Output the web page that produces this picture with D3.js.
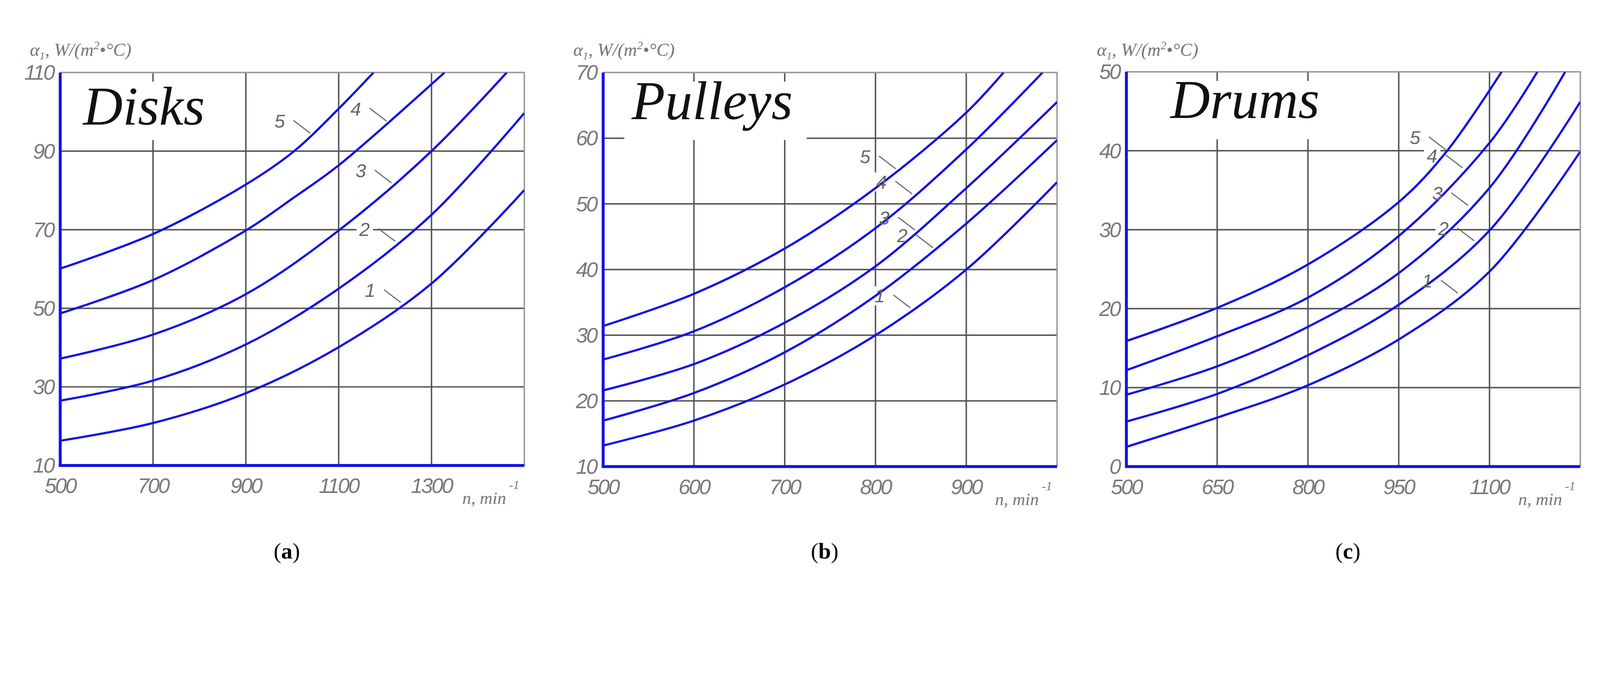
<!DOCTYPE html>
<html><head><meta charset="utf-8">
<script src="https://cdn.jsdelivr.net/npm/d3@7"></script>
<style>html,body{margin:0;padding:0;background:#fff;overflow:hidden}svg{display:block}</style></head>
<body><svg id="c" viewBox="0 0 4385 1723" preserveAspectRatio="xMidYMid meet" style="width:100vw;height:100vh"></svg>
<script>
// ---------- data ----------
const panelNames = ["Disks", "Pulleys", "Drums"];
const panelCaptions = ["a", "b", "c"];
const xTicksA = [500, 700, 900, 1100, 1300];
const yTicksA = [10, 30, 50, 70, 90, 110];
const xTicksB = [500, 600, 700, 800, 900];
const yTicksB = [10, 20, 30, 40, 50, 60, 70];
const xTicksC = [500, 650, 800, 950, 1100];
const yTicksC = [0, 10, 20, 30, 40, 50];
// curves 1..5: [n, alpha]
const disks1 = [[500,16.3],[700,20.8],[900,28.4],[1100,40.1],[1300,56.3],[1500,80.1]];
const disks2 = [[500,26.5],[700,31.6],[900,40.8],[1100,55],[1300,73.8],[1500,99.7]];
const disks3 = [[500,37.2],[700,43.3],[900,53.6],[1100,69.8],[1300,90],[1462,110]];
const disks4 = [[500,48.7],[700,57.2],[900,69.8],[1000,77.9],[1100,86.4],[1328,110]];
const disks5 = [[500,60.1],[700,68.9],[900,81.5],[1004,90],[1100,100.8],[1175,110]];
const pulleys1 = [[500,13.2],[600,17],[700,22.5],[800,30],[900,40],[1000,53.3]];
const pulleys2 = [[500,17],[600,21.2],[700,27.4],[800,36],[900,47],[1000,59.7]];
const pulleys3 = [[500,21.6],[600,25.6],[700,31.9],[800,40.5],[900,52.4],[1000,65.5]];
const pulleys4 = [[500,26.3],[600,30.6],[700,37.3],[800,46.3],[900,58.3],[984,70]];
const pulleys5 = [[500,31.4],[600,36.3],[700,43.2],[800,52.4],[900,63.9],[941,70]];
const drums1 = [[500,2.5],[650,6.2],[800,10.3],[950,16.1],[1100,24.7],[1250,39.9]];
const drums2 = [[500,5.7],[650,9.2],[800,14.1],[950,20.5],[1100,29.9],[1250,46.2]];
const drums3 = [[500,9.1],[650,12.7],[800,17.7],[950,24.5],[1100,35.3],[1225,50]];
const drums4 = [[500,12.2],[650,16.5],[800,21.4],[950,29.2],[1100,41],[1179,50]];
const drums5 = [[500,15.9],[650,20.1],[800,25.6],[950,33.5],[1030,40],[1120,50]];
const curveLabels = ["1","2","3","4","5"];
const labelNA = [1237, 1225, 1217, 1206, 1042];
const labelNB = [840, 865, 845, 842, 824];
const labelNC = [1050, 1077, 1067, 1058, 1030];

const panels = [
  {name:panelNames[0], cap:panelCaptions[0], xd:[500,1500], yd:[10,110], xt:xTicksA, yt:yTicksA,
   series:[disks1,disks2,disks3,disks4,disks5], ln:labelNA, box:[165,1437,138,1215]},
  {name:panelNames[1], cap:panelCaptions[1], xd:[500,1000], yd:[10,70], xt:xTicksB, yt:yTicksB,
   series:[pulleys1,pulleys2,pulleys3,pulleys4,pulleys5], ln:labelNB, box:[1653,2897,138,1218]},
  {name:panelNames[2], cap:panelCaptions[2], xd:[500,1250], yd:[0,50], xt:xTicksC, yt:yTicksC,
   series:[drums1,drums2,drums3,drums4,drums5], ln:labelNC, box:[3087,4331,136,1218]}
];

const svg = d3.select("#c");
const BLUE = "#1212e6", GRID = "#555", TXT = "#7a7a7a";
const tickFont = "'Liberation Sans Narrow','Liberation Sans',sans-serif";

panels.forEach((p, i) => {
  const [L, R, T, B] = p.box;
  const x = d3.scaleLinear().domain(p.xd).range([L, R]);
  const y = d3.scaleLinear().domain(p.yd).range([B, T]);
  const g = svg.append("g");

  // grid
  g.selectAll(".vg").data(p.xt.slice(1)).join("line")
    .attr("x1", d => x(d)).attr("x2", d => x(d)).attr("y1", T).attr("y2", B)
    .attr("stroke", GRID).attr("stroke-width", 4);
  g.selectAll(".hg").data(p.yt.slice(1, -1)).join("line")
    .attr("x1", L).attr("x2", R).attr("y1", d => y(d)).attr("y2", d => y(d))
    .attr("stroke", GRID).attr("stroke-width", 4);
  g.append("path").attr("d", `M${L},${T}H${R}V${B}`).attr("fill", "none")
    .attr("stroke", "#999").attr("stroke-width", 4);

  // title
  const titleX = [228, 1731, 3208][i];
  g.append("rect").attr("x", titleX - 20).attr("y", T + 25).attr("width", [400, 500, 470][i]).attr("height", 160).attr("fill", "#fff");
  g.append("text").attr("x", titleX).attr("y", [281, 266, 263][i]).text(p.name)
    .attr("font-family", "'Liberation Serif',serif").attr("font-style", "italic")
    .attr("font-size", 150).attr("fill", "#111");

  // label anchors
  const anchors = p.series.map((s, k) => {
    const n = p.ln[k];
    const interp = d3.scaleLinear().domain(s.map(d => d[0])).range(s.map(d => d[1]));
    return [x(n), y(interp(n))];
  });
  g.selectAll(".lr").data(anchors).join("rect")
    .attr("x", d => d[0] - 110).attr("y", d => d[1] - 62).attr("width", 45).attr("height", 52).attr("fill", "#fff");

  // curves
  const clipId = "clip" + i;
  g.append("clipPath").attr("id", clipId).append("rect")
    .attr("x", L).attr("y", T).attr("width", R - L).attr("height", B - T);
  const line = d3.line().x(d => x(d[0])).y(d => y(d[1])).curve(d3.curveCatmullRom.alpha(0.5));
  g.append("g").attr("clip-path", `url(#${clipId})`).selectAll("path").data(p.series).join("path")
    .attr("d", line).attr("fill", "none").attr("stroke", BLUE).attr("stroke-width", 6);

  // leaders + labels
  anchors.forEach((a, k) => {
    g.append("line").attr("x1", a[0] - 50).attr("y1", a[1] - 38).attr("x2", a[0] - 4).attr("y2", a[1] - 3)
      .attr("stroke", "#666").attr("stroke-width", 3);
    g.append("text").attr("x", a[0] - 88).attr("y", a[1] - 18).attr("text-anchor", "middle")
      .text(curveLabels[k]).attr("font-family", tickFont).attr("font-style", "italic")
      .attr("font-size", 52).attr("fill", "#666");
  });

  // axes
  g.append("path").attr("d", `M${L},${T}V${B}H${R}`).attr("fill", "none")
    .attr("stroke", BLUE).attr("stroke-width", 8);

  // tick labels
  g.selectAll(".xl").data(p.xt).join("text")
    .attr("x", d => x(d)).attr("y", B + 75).attr("text-anchor", "middle").text(d => d)
    .attr("font-family", tickFont).attr("font-style", "italic").attr("font-size", 58)
    .attr("fill", TXT).attr("letter-spacing", -4);
  g.selectAll(".yl").data(p.yt).join("text")
    .attr("x", L - 18).attr("y", d => y(d) + 20).attr("text-anchor", "end").text(d => d)
    .attr("font-family", tickFont).attr("font-style", "italic").attr("font-size", 58)
    .attr("fill", TXT).attr("letter-spacing", -4);

  // axis titles
  const yt = g.append("text").attr("x", [82, 1571, 3006][i]).attr("y", 92)
    .attr("font-family", "'Liberation Serif',serif").attr("font-style", "italic")
    .attr("font-size", 50).attr("fill", "#777");
  yt.append("tspan").text("α");
  yt.append("tspan").text("1").attr("font-size", 30).attr("dy", 10);
  yt.append("tspan").text(",   W/(m").attr("dy", -10);
  yt.append("tspan").text("2").attr("font-size", 32).attr("dy", -18);
  yt.append("tspan").text("•°C)").attr("dy", 18);

  const xt = g.append("text").attr("x", R - 170).attr("y", B + 105)
    .attr("font-family", "'Liberation Serif',serif").attr("font-style", "italic")
    .attr("font-size", 48).attr("fill", "#777");
  xt.append("tspan").text("n, min");
  xt.append("tspan").text("-1").attr("font-size", 34).attr("dx", 8).attr("dy", -40);

  // caption
  const cap = g.append("text").attr("x", (L + R) / 2 - 15).attr("y", 1470).attr("text-anchor", "middle")
    .attr("font-family", "'Liberation Serif',serif").attr("font-size", 62).attr("fill", "#000");
  cap.append("tspan").text("(");
  cap.append("tspan").text(p.cap).attr("font-weight", "bold");
  cap.append("tspan").text(")");
});
</script></body></html>
